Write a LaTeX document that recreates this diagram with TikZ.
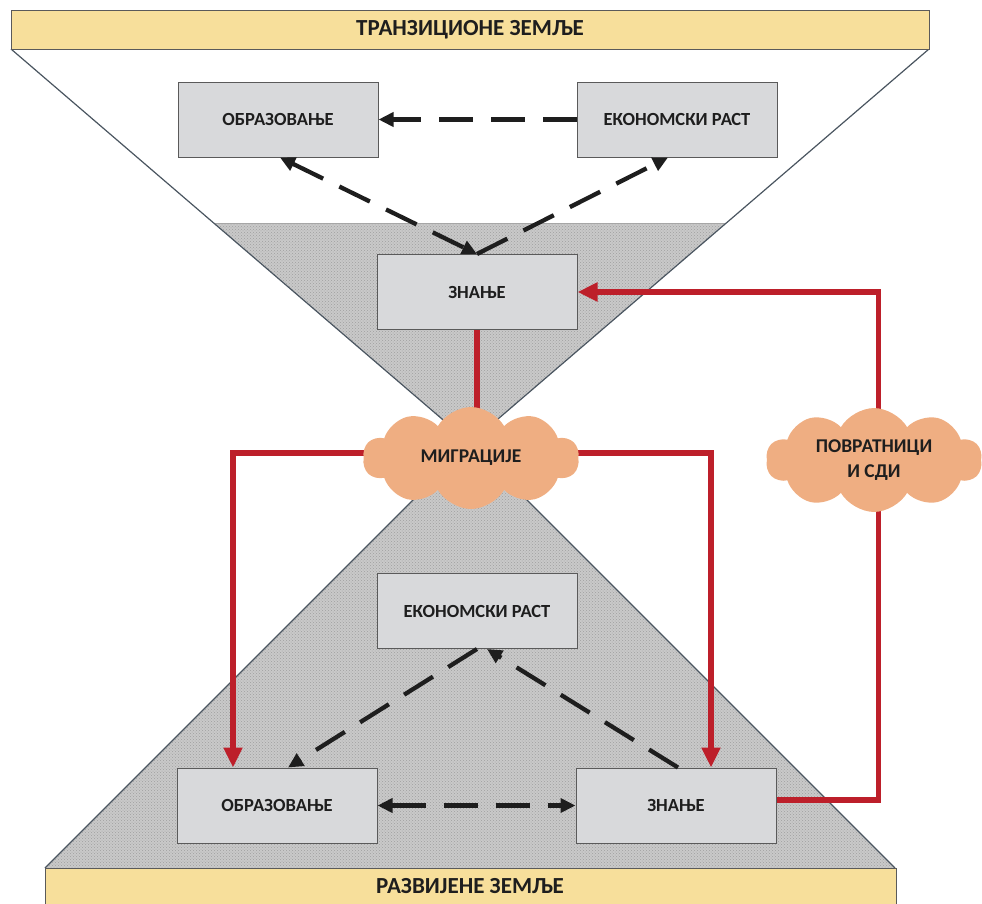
\documentclass[tikz,border=0pt]{standalone}
\usepackage{fontspec}
\setmainfont{Carlito}
\usetikzlibrary{arrows.meta,shapes.symbols,calc,patterns}
\definecolor{bandfill}{HTML}{F7DF9B}
\definecolor{boxfill}{HTML}{D8D9DB}
\definecolor{boxline}{HTML}{5A5A5A}
\definecolor{hgline}{HTML}{4A5560}
\definecolor{greyfill}{HTML}{C9C9C9}
\definecolor{cloudfill}{HTML}{EFAE82}
\definecolor{redline}{HTML}{BD1F2A}
\definecolor{txt}{HTML}{1E1E1E}
\pgfdeclarelayer{back}
\pgfdeclarelayer{bg}
\pgfsetlayers{back,bg,main}
\tikzset{
  band/.style={draw=boxline, line width=1pt, fill=bandfill, inner sep=0pt, text=txt,
    font=\bfseries\fontsize{23}{26}\selectfont},
  box/.style={draw=boxline, line width=1pt, fill=boxfill, minimum width=200pt,
    minimum height=75pt, inner sep=0pt, text=txt, font=\bfseries\fontsize{18.5}{21}\selectfont},
  cloudnode/.style={cloud, cloud puffs=10, cloud puff arc=120, aspect=2.1, fill=cloudfill,
    draw=none, minimum width=216pt, minimum height=102pt, inner sep=0pt, align=center,
    text=txt, font=\bfseries\fontsize{19.5}{25}\selectfont},
  bd/.style={line width=4.3pt, draw=txt, dash pattern=on 34pt off 18pt},
  btip/.style={-{Triangle[length=15pt,width=14pt]}},
  bboth/.style={{Triangle[length=15pt,width=14pt]}-{Triangle[length=15pt,width=14pt]}},
  rl/.style={line width=5.5pt, draw=redline},
  rtip/.style={-{Triangle[length=20pt,width=18pt]}},
  hg/.style={draw=hgline, line width=1.2pt},
  greyarea/.style={fill=greyfill, postaction={pattern=crosshatch dots, pattern color=gray!75}}
}
\begin{document}
\begin{tikzpicture}[x=1pt,y=-1pt]
\useasboundingbox (0,0) rectangle (982,903);
% hourglass
\begin{pgfonlayer}{back}
  \fill[white] (11,49) -- (470,443) -- (929,49) -- cycle;
  \path[greyarea] (214,223) -- (726,223) -- (470,443) -- cycle;
  \path[greyarea] (470,443) -- (45,868) -- (895,868) -- cycle;
  \draw[draw=gray!70, line width=0.8pt] (214,223) -- (726,223);
  \draw[hg] (11,49) -- (470,443) -- (929,49);
  \draw[hg] (45,868) -- (470,443) -- (895,868);
\end{pgfonlayer}
% bands
\node[band, minimum width=918pt, minimum height=39pt] (tb) at (470,29.5) {ТРАНЗИЦИОНЕ ЗЕМЉЕ};
\node[band, minimum width=851pt, minimum height=44pt, anchor=north] (bb) at (470.5,868) {};
\node[text=txt, font=\bfseries\fontsize{23}{26}\selectfont] (bbt) at (470,886) {РАЗВИЈЕНЕ ЗЕМЉЕ};
% boxes
\node[box] (ot) at (278,119.5) {ОБРАЗОВАЊЕ};
\node[box] (et) at (677,119.5) {ЕКОНОМСКИ РАСТ};
\node[box] (zt) at (477,292) {ЗНАЊЕ};
\node[box] (eb) at (477,611) {ЕКОНОМСКИ РАСТ};
\node[box] (ob) at (277,805.5) {ОБРАЗОВАЊЕ};
\node[box] (zb) at (676,805.5) {ЗНАЊЕ};
% clouds
\node[cloudnode] (mig) at (471,458) {МИГРАЦИЈЕ};
\node[cloudnode] (pov) at (874,460) {ПОВРАТНИЦИ\\И СДИ};
% red connectors
\begin{pgfonlayer}{bg}
  \draw[rl] (zt.south) -- (zt.south |- mig.center);
  \draw[rl, rtip] ($(mig.center)+(0,-5)$) -| ($(ob.north)+(-44,0)$);
  \draw[rl, rtip] ($(mig.center)+(0,-5)$) -| ($(zb.north)+(35,0)$);
  \draw[rl, rtip] ($(zb.east)+(0,-5.5)$) -- ++(102,0) |- (zt.east);
\end{pgfonlayer}
% black dashed connectors
\draw[bd, btip] (et.west) -- (ot.east);
\draw[bd, bboth] ($(ot.south)+(2,0)$) -- (zt.north);
\draw[bd, btip] (zt.north) -- ($(et.south)+(-9,0)$);
\draw[bd, bboth] (ob.east) -- (zb.west);
\draw[bd, btip] (eb.south) -- ($(ob.north)+(11,0)$);
\draw[bd, btip] ($(zb.north)+(2,0)$) -- ($(eb.south)+(10,0)$);
\end{tikzpicture}
\end{document}
